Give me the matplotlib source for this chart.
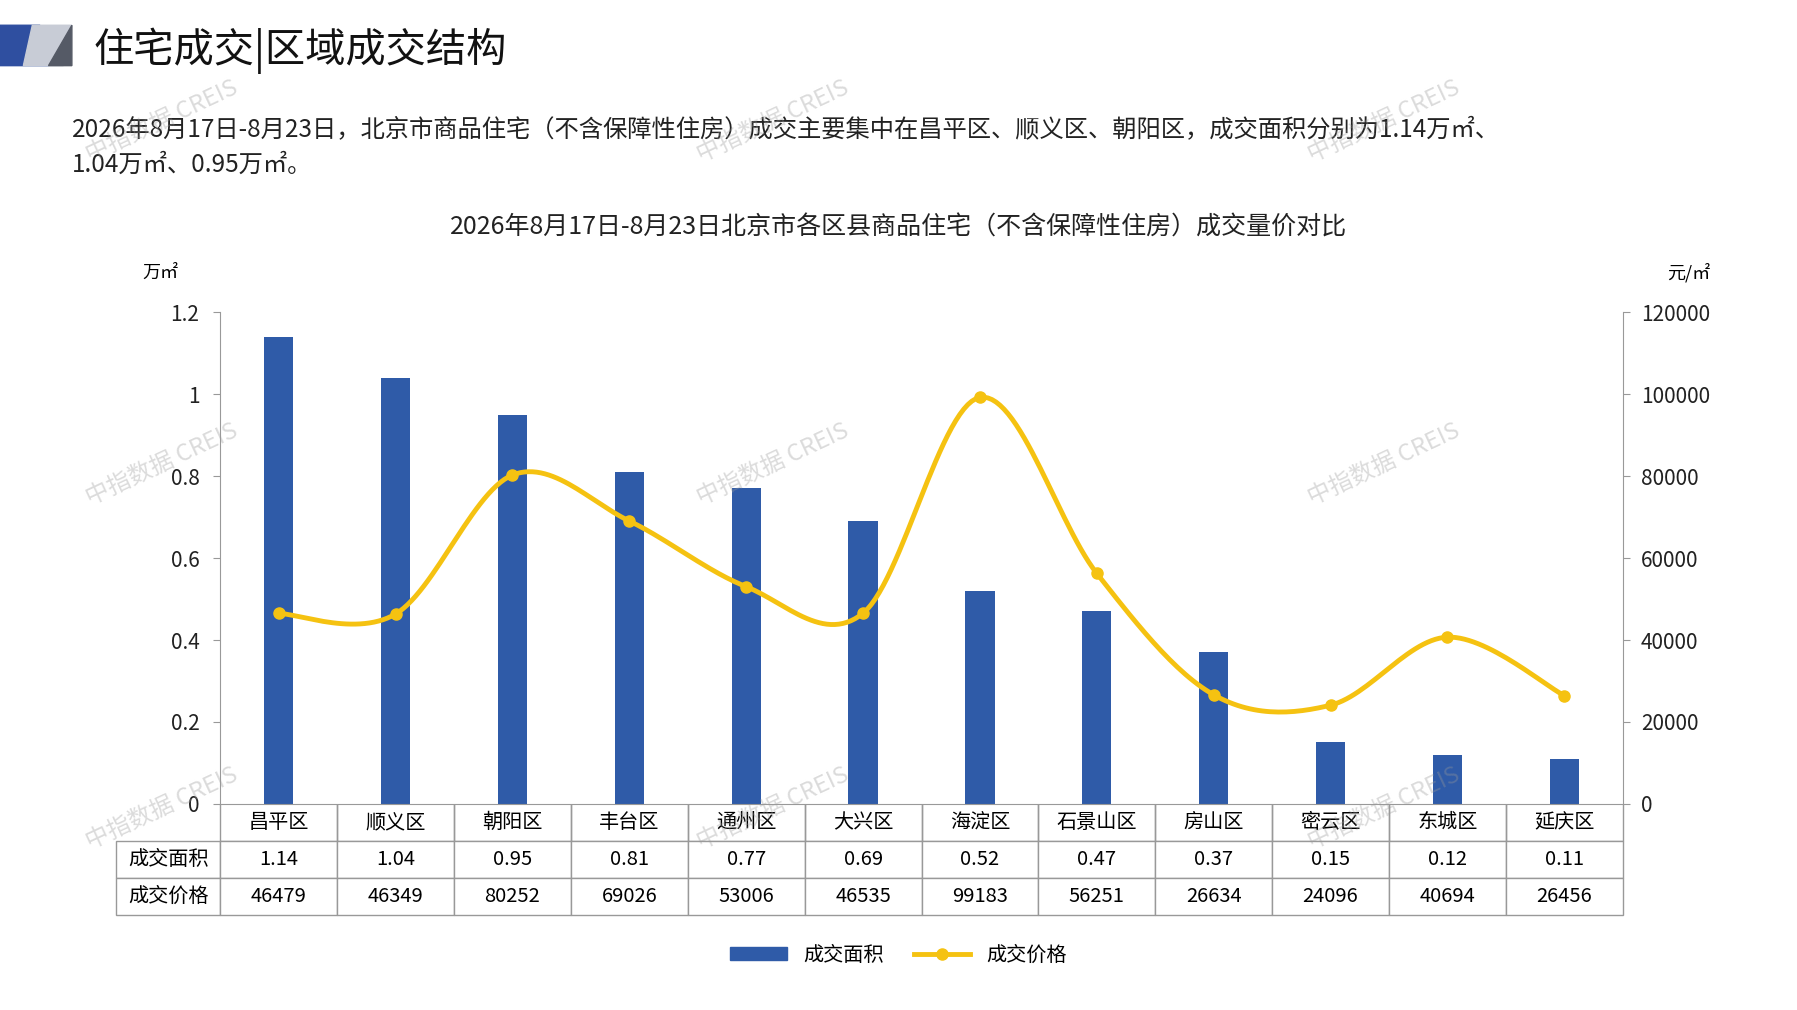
import numpy as np
import matplotlib
matplotlib.use("Agg")
import matplotlib.pyplot as plt
from matplotlib.patches import Polygon, Patch
from matplotlib.lines import Line2D

plt.rcParams['font.family'] = ['Noto Sans CJK SC', 'DejaVu Sans']

districts = ["昌平区","顺义区","朝阳区","丰台区","通州区","大兴区","海淀区","石景山区","房山区","密云区","东城区","延庆区"]
area = [1.14,1.04,0.95,0.81,0.77,0.69,0.52,0.47,0.37,0.15,0.12,0.11]
price = [46479,46349,80252,69026,53006,46535,99183,56251,26634,24096,40694,26456]
area_labels = ["1.14","1.04","0.95","0.81","0.77","0.69","0.52","0.47","0.37","0.15","0.12","0.11"]

W, H = 1797, 1010
fig = plt.figure(figsize=(W/100, H/100), dpi=100)
fig.patch.set_facecolor('white')

fig.patches.append(Polygon([[0,0.975],[0.022,0.975],[0.027,0.935],[0,0.935]], closed=True, transform=fig.transFigure, color='#2f4fa0'))
fig.patches.append(Polygon([[0.018,0.975],[0.04,0.975],[0.035,0.935],[0.013,0.935]], closed=True, transform=fig.transFigure, color='#c8ccd6'))
fig.patches.append(Polygon([[0.027,0.935],[0.04,0.975],[0.04,0.935]], closed=True, transform=fig.transFigure, color='#555a66'))
fig.text(0.052, 0.950, "住宅成交|区域成交结构", fontsize=29, va='center', ha='left', color='#111')
fig.text(0.04, 0.854, "2026年8月17日-8月23日，北京市商品住宅（不含保障性住房）成交主要集中在昌平区、顺义区、朝阳区，成交面积分别为1.14万㎡、\n1.04万㎡、0.95万㎡。",
         fontsize=17.5, va='center', ha='left', color='#222', linespacing=1.4)
fig.text(0.5, 0.775, "2026年8月17日-8月23日北京市各区县商品住宅（不含保障性住房）成交量价对比", fontsize=18, ha='center', va='center', color='#222')

ax = fig.add_axes([0.1226, 0.204, 0.7804, 0.487])
x = np.arange(len(districts))
ax.bar(x, area, width=0.25, color='#2f5ba8', label='成交面积', zorder=2)
ax.set_xlim(-0.5, len(districts)-0.5)
ax.set_ylim(0, 1.2)
ax.set_yticks([0,0.2,0.4,0.6,0.8,1.0,1.2])
ax.set_yticklabels(["0","0.2","0.4","0.6","0.8","1","1.2"])
ax.set_xticks([])
for s in ['top','right']:
    ax.spines[s].set_visible(False)
ax.spines['left'].set_color('#999')
ax.spines['bottom'].set_color('#999')
ax.tick_params(axis='y', labelsize=15, colors='#222', length=5, direction='out', pad=10)
ax.tick_params(axis='y', color='#999')
ax.text(-0.03, 1.08, "万㎡", transform=ax.transAxes, fontsize=13, ha='right', va='center')

ax2 = ax.twinx()
ax2.set_ylim(0, 120000)
ax2.set_yticks(range(0, 120001, 20000))
ax2.tick_params(axis='y', labelsize=15, colors='#222', length=5, pad=8)
ax2.tick_params(axis='y', color='#999')
for s in ['top','left','bottom']:
    ax2.spines[s].set_visible(False)
ax2.spines['right'].set_color('#999')
ax2.text(1.047, 1.08, "元/㎡", transform=ax2.transAxes, fontsize=13, ha='center', va='center')

p = np.array(price, dtype=float)
xs, ys = [], []
pts = np.column_stack([x, p])
ext = np.vstack([pts[0], pts, pts[-1]])
for i in range(1, len(ext)-2):
    p0, p1, p2, p3 = ext[i-1], ext[i], ext[i+1], ext[i+2]
    t = np.linspace(0, 1, 30)[:, None]
    c = 0.5*((2*p1) + (-p0+p2)*t + (2*p0-5*p1+4*p2-p3)*t**2 + (-p0+3*p1-3*p2+p3)*t**3)
    xs.extend(c[:,0]); ys.extend(c[:,1])
ax2.plot(xs, ys, color='#f5c211', lw=3.5, zorder=3)
ax2.plot(x, p, 'o', color='#f5c211', ms=8, zorder=4)

lw_frac = 0.0745
cell = [[""] + districts, ["成交面积"] + area_labels, ["成交价格"] + [str(v) for v in price]]
tb = ax.table(cellText=cell, cellLoc='center', bbox=[-lw_frac, -0.226, 1+lw_frac, 0.226],
              colWidths=[lw_frac] + [1/12]*12)
tb.auto_set_font_size(False)
tb.set_fontsize(14.5)
for (r, c), ce in tb.get_celld().items():
    ce.set_edgecolor('#999')
    ce.set_linewidth(1)
    if r == 0 and c == 0:
        ce.visible_edges = ''
    elif r == 0:
        ce.visible_edges = 'LRB'

handles = [Patch(color='#2f5ba8', label='成交面积'),
           Line2D([0],[0], color='#f5c211', lw=3.5, marker='o', ms=8, label='成交价格')]
fig.legend(handles=handles, loc='center', bbox_to_anchor=(0.5, 0.054), ncol=2, frameon=False,
           fontsize=14.5, handlelength=2.8, handleheight=0.6, columnspacing=1.5)

for wx in [0.09, 0.43, 0.77]:
    for wy in [0.88, 0.54, 0.2]:
        fig.text(wx, wy, "中指数据 CREIS", fontsize=17, rotation=25, color='#999', alpha=0.35,
                 ha='center', va='center')

fig.savefig("out.png", dpi=100)
